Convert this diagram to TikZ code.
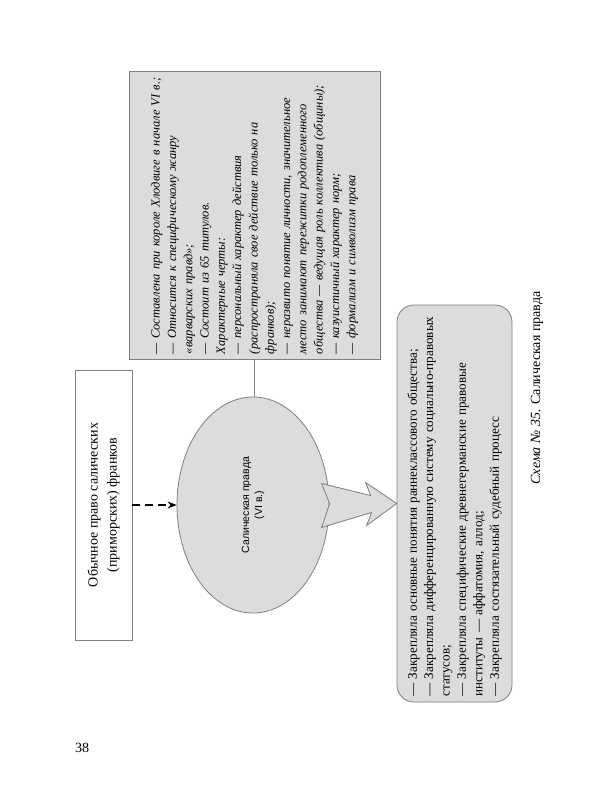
\documentclass[tikz,border=0pt]{standalone}
\usepackage{fontspec}
\setmainfont{Liberation Serif}
\newfontfamily\sansf{Liberation Sans}
\usetikzlibrary{shapes.geometric,arrows.meta,calc}
\definecolor{boxgray}{HTML}{DCDCDC}
\definecolor{edgegray}{HTML}{7F7F7F}
\begin{document}
\begin{tikzpicture}[x=1pt,y=-1pt,
  grayfill/.style={fill=boxgray,draw=edgegray,line width=0.8pt},
  plainline/.style={draw=edgegray,line width=0.8pt}]
\fill[white] (0,0) rectangle (600,800);
\useasboundingbox (0,0) rectangle (600,800);

\node[grayfill, rotate=90, inner sep=0pt, minimum width=288pt, minimum height=251pt,
      text width=278pt, align=left, font=\itshape\fontsize{12.5}{16.3}\selectfont] (feat) at (254.5,215) {%
— Составлена при короле Хлодвиге в начале VI в.;\\
— Относится к специфическому жанру\\
«варварских правд»;\\
— Состоит из 65 титулов.\\
Характерные черты:\\
— персональный характер действия\\
(распространяла свое действие только на\\
франков);\\
— неразвито понятие личности, значительное\\
место занимают пережитки родоплеменного\\
общества — ведущая роль коллектива (общины);\\
— казуистичный характер норм;\\
— формализм и символизм права};

\node[draw=edgegray, line width=0.8pt, fill=white, rotate=90, minimum width=270pt, minimum height=57pt,
      align=center, font=\fontsize{14}{19}\selectfont] (src) at (103.5,505)
  {Обычное право салических\\(приморских) франков};

\node[grayfill, ellipse, rotate=90, minimum width=216pt, minimum height=152pt,
      align=center, font=\sansf\fontsize{10.5}{13}\selectfont] (ell) at (253,505)
  {Салическая правда\\(VI в.)};

\node[grayfill, rounded corners=17pt, rotate=90, inner sep=0pt, minimum width=397pt, minimum height=115pt,
      text width=386pt, align=left, font=\fontsize{13.1}{16.4}\selectfont] (rbox) at (454.5,503.5) {%
— Закрепляла основные понятия раннеклассового общества;\\
— Закрепляла дифференцированную систему социально-правовых\\
статусов;\\
— Закрепляла специфические древнегерманские правовые\\
институты — аффатомия, аллод;\\
— Закрепляла состязательный судебный процесс};

\draw[plainline] (feat.west) -- (feat.west |- ell.east);
\draw[line width=1.3pt, dash pattern=on 8pt off 5pt, -{Stealth[length=9pt,width=7pt]}] (src.south) -- (ell.north);

\filldraw[grayfill, shift={(rbox.north)}]
  (-75,-20) -- (-67,0) -- (-75,24) -- (-25,9) -- (-30,22) -- (0,0) -- (-31,-21) -- (-26,-8) -- cycle;

\node[rotate=90, font=\fontsize{14}{16}\selectfont] (cap) at (537,388)
  {\textit{Схема №~35.} Салическая правда};
\node[font=\fontsize{14}{16}\selectfont] (pg) at (82,748) {38};
\end{tikzpicture}
\end{document}
